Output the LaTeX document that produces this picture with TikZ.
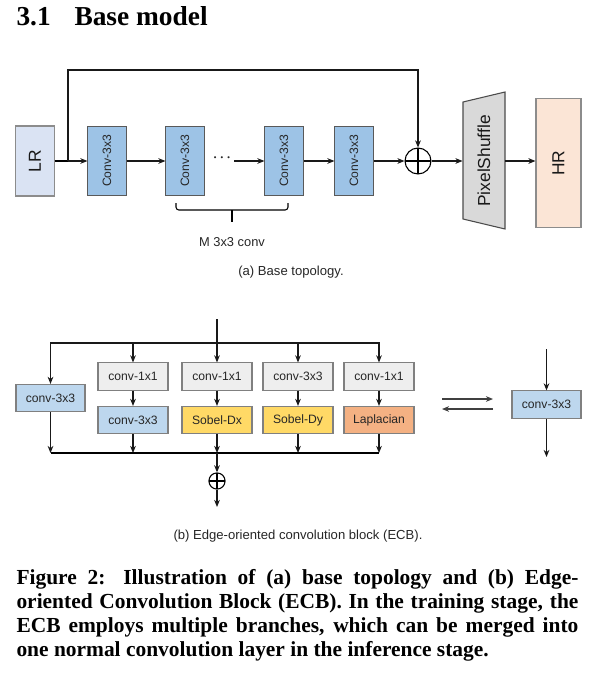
\documentclass[tikz,border=0pt]{standalone}
\usepackage{fontspec}
\setmainfont{Liberation Serif}
\setsansfont{Liberation Sans}
\usetikzlibrary{arrows.meta, positioning}

\definecolor{lrblue}{HTML}{DAE3F3}
\definecolor{convblue}{HTML}{9DC3E6}
\definecolor{psgray}{HTML}{D9D9D9}
\definecolor{hrpeach}{HTML}{FBE5D6}
\definecolor{boxgray}{HTML}{EEEEEE}
\definecolor{lightconv}{HTML}{BDD7EE}
\definecolor{sobel}{HTML}{FFD966}
\definecolor{lapl}{HTML}{F4B183}

\begin{document}
\begin{tikzpicture}[
    x=0.42pt, y=-0.42pt,
    >={Stealth[length=3pt, width=2.4pt]},
    line width=0.45pt,
    lbl/.style={font=\sffamily\fontsize{5.1}{6}\selectfont, text=black!85},
    big/.style={font=\sffamily\fontsize{7.3}{8}\selectfont, text=black!90},
    conv/.style={rectangle, draw=black!65, fill=convblue, rotate=90, minimum width=29pt, minimum height=16pt, inner sep=0pt, lbl},
    ioblock/.style={rectangle, draw=black!45, rotate=90, inner sep=0pt, big},
    sumnode/.style={circle, draw=black, inner sep=0pt, path picture={\draw (path picture bounding box.north) -- (path picture bounding box.south) (path picture bounding box.west) -- (path picture bounding box.east);}},
    ecb/.style={rectangle, draw=black!50, minimum width=29.4pt, minimum height=11.4pt, inner sep=0pt, lbl},
    arr/.style={->, draw=black!90},
    capt/.style={font=\sffamily\fontsize{5.5}{6.5}\selectfont, text=black!85}
  ]
  \useasboundingbox (0,0) rectangle (594,675);

  % Section heading
  \node[anchor=base west, inner sep=0pt, font=\bfseries\fontsize{11.5}{13}\selectfont] (secnum) at (16,25) {3.1};
  \node[anchor=base west, inner sep=0pt, font=\bfseries\fontsize{11.5}{13}\selectfont] (sectitle) at (74,25) {Base model};

  % (a) Base topology
  \node[ioblock, fill=lrblue, minimum width=29.4pt, minimum height=16pt] (lr) at (35,161) {LR};
  \node[conv] (c1) at (107,161) {Conv-3x3};
  \node[conv] (c2) at (185,161) {Conv-3x3};
  \node[lbl, font=\fontsize{8}{8}\selectfont, inner sep=1pt] (dots) at (222,158) {$\cdot\!\cdot\!\cdot$};
  \node[conv] (c3) at (284,161) {Conv-3x3};
  \node[conv] (c4) at (354,161) {Conv-3x3};
  \node[sumnode, minimum size=10.9pt] (sum) at (418,161) {};
  \draw[draw=black!70, fill=psgray] (463,102) -- (505,92) -- (505,229) -- (463,219) -- cycle;
  \node[ioblock, draw=none, minimum width=49pt, minimum height=17.6pt] (ps) at (484,161) {PixelShuffle};
  \node[ioblock, fill=hrpeach, minimum width=53.8pt, minimum height=18.9pt] (hr) at (558.5,163) {HR};
  \coordinate (split) at (68,161);

  \draw (lr) -- (split);
  \draw[arr] (split) -- (c1);
  \draw[arr] (c1) -- (c2);
  \draw[arr] (dots.east |- c3) -- (c3);
  \draw[arr] (c3) -- (c4);
  \draw[arr] (c4) -- (sum);
  \draw[arr] (split) -- ++(0,-91) -| (sum);
  \draw[arr] (sum) -- (ps);
  \draw[arr] (ps) -- (ps -| hr.north);

  % brace under the middle blocks
  \draw[rounded corners=1.2pt] (176,203) |- (288,210) -- (288,203);
  \draw (232,210) -- (232,222);
  \node[lbl, font=\sffamily\fontsize{5.4}{6}\selectfont] (mconv) at (232,242) {M 3x3 conv};
  \node[capt] (capa) at (291,272) {(a) Base topology.};

  % (b) Edge-oriented convolution block
  \node[ecb, fill=lightconv, minimum width=29pt] (k0) at (50.5,398) {conv-3x3};
  \node[ecb, fill=boxgray] (a1) at (133,376.5) {conv-1x1};
  \node[ecb, fill=boxgray] (a2) at (217,376.5) {conv-1x1};
  \node[ecb, fill=boxgray] (a3) at (298,376.5) {conv-3x3};
  \node[ecb, fill=boxgray] (a4) at (379,376.5) {conv-1x1};
  \node[ecb, fill=lightconv] (b1) at (133,420) {conv-3x3};
  \node[ecb, fill=sobel] (b2) at (217,420) {Sobel-Dx};
  \node[ecb, fill=sobel] (b3) at (298,420) {Sobel-Dy};
  \node[ecb, fill=lapl] (b4) at (379,420) {Laplacian};
  \node[sumnode, minimum size=6.8pt] (sum2) at (217,481) {};
  \coordinate (in) at (217,319);
  \coordinate (bus) at (217,343);
  \coordinate (join) at (217,453);
  \coordinate (out) at (217,507);

  \draw[arr] (in) -- (a2);
  \draw[arr] (bus) -| (k0);
  \draw[arr] (bus) -| (a1);
  \draw[arr] (bus) -| (a3);
  \draw[arr] (bus) -| (a4);
  \draw[arr] (a1) -- (b1);
  \draw[arr] (a2) -- (b2);
  \draw[arr] (a3) -- (b3);
  \draw[arr] (a4) -- (b4);
  \draw[arr] (k0) -- (k0 |- join);
  \draw[arr] (b1) -- (b1 |- join);
  \draw[arr] (b2) -- (join);
  \draw[arr] (b3) -- (b3 |- join);
  \draw[arr] (b4) -- (b4 |- join);
  \draw (k0 |- join) -- (b4 |- join);
  \draw[arr] (join) -- (sum2);
  \draw[arr] (sum2) -- (out);

  % merged block
  \coordinate (fwdA) at (442,399);
  \coordinate (fwdB) at (493,399);
  \coordinate (bwdA) at (493,409);
  \coordinate (bwdB) at (442,409);
  \draw[arr, draw=black!75] (fwdA) -- (fwdB);
  \draw[arr, draw=black!75] (bwdA) -- (bwdB);
  \node[ecb, fill=lightconv, minimum width=29pt] (merged) at (546.5,404.5) {conv-3x3};
  \coordinate (min) at (546.5,349);
  \coordinate (mout) at (546.5,457);
  \draw[arr] (min) -- (merged);
  \draw[arr] (merged) -- (mout);
  \node[capt] (capb) at (298,536) {(b) Edge-oriented convolution block (ECB).};

  % Caption
  \node[anchor=north west, inner sep=0pt, text width=236pt, align=justify, font=\bfseries\fontsize{9}{10.1}\selectfont] (caption) at (16,569) {Figure 2: Illustration of (a) base topology and (b) Edge-\linebreak oriented Convolution Block (ECB). In the training stage, the\linebreak ECB employs multiple branches, which can be merged into\linebreak one normal convolution layer in the inference stage.};
\end{tikzpicture}
\end{document}
